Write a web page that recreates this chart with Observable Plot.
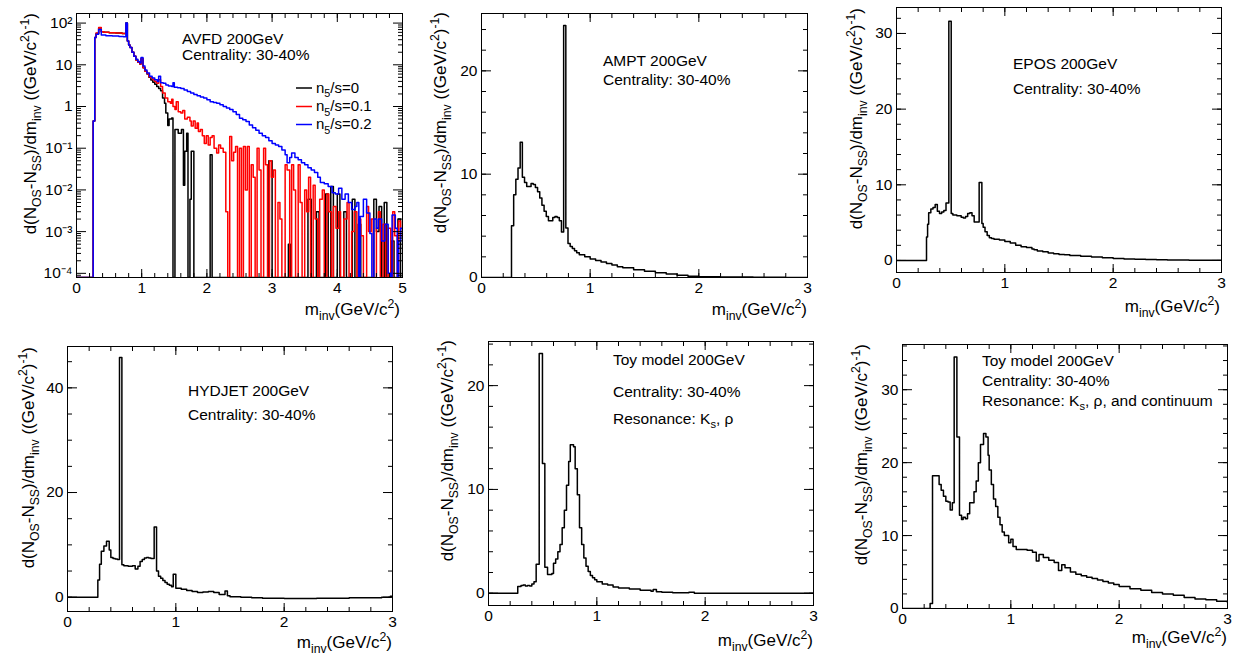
<!DOCTYPE html>
<html><head><meta charset="utf-8">
<script src="https://cdn.jsdelivr.net/npm/d3@7"></script>
<script src="https://cdn.jsdelivr.net/npm/@observablehq/plot@0.6"></script>
<style>
html,body{margin:0;padding:0;background:#fff;}
#root{position:relative;width:1236px;height:656px;overflow:hidden;}
.panel{position:absolute;}
.panel svg{display:block;overflow:visible;}
</style></head><body><div id="root"></div>
<script>
// ---------- DATA: histogram bins as [bin left edge (GeV/c^2), value] ----------
const avfdBlack = [[0,0],[0.256,0.45],[0.28,45],[0.30,56],[0.34,77],[0.38,62],[0.42,60],[0.5,59],[0.6,58],[0.7,56],[0.757,100],[0.78,37],[0.80,30],[0.82,26],[0.85,20],[0.88,16],[0.91,13],[0.94,11.5],[0.97,10.5],[0.99,14],[1.02,8.5],[1.05,7.0],[1.08,6.0],[1.11,5.0],[1.14,4.3],[1.17,3.8],[1.20,3.4],[1.23,3.0],[1.26,2.7],[1.29,2.4],[1.32,1.6],[1.35,1.2],[1.37,0.7],[1.40,0.35],[1.42,0.5],[1.46,0.53],[1.48,0],[1.51,0.28],[1.56,0.23],[1.61,0.28],[1.64,0.013],[1.66,0.085],[1.69,0.23],[1.71,0],[1.74,0.006],[1.76,0.085],[1.80,0],[2.05,0.07],[2.08,0],[2.95,0.05],[3.0,0],[3.25,0.0005],[3.28,0],[3.55,0.006],[3.6,0],[3.68,0.003],[3.72,0],[3.82,0.008],[3.86,0],[3.9,0.012],[3.94,0],[4.0,0.008],[4.04,0],[4.1,0.003],[4.14,0],[4.23,0.006],[4.27,0],[4.32,0.0015],[4.36,0],[4.56,0.006],[4.6,0.001],[4.64,0.004],[4.68,0],[4.72,0.005],[4.76,0],[4.83,0.0006],[4.87,0],[4.93,0.002],[4.97,0],[5.0,0]];
const avfdRed = [[0,0],[0.256,0.45],[0.28,45],[0.30,58],[0.34,78],[0.38,62],[0.42,60],[0.5,59],[0.6,58],[0.7,56],[0.757,98],[0.78,37],[0.80,30],[0.82,26],[0.85,20],[0.88,16],[0.91,13],[0.94,11.5],[0.97,10.5],[0.99,14],[1.02,8.5],[1.05,7.0],[1.08,6.2],[1.11,5.2],[1.14,4.8],[1.17,4.4],[1.20,4.0],[1.23,3.6],[1.26,4.4],[1.29,3.0],[1.32,2.1],[1.36,1.6],[1.40,1.3],[1.44,1.2],[1.46,1.5],[1.48,1.0],[1.51,0.85],[1.53,1.3],[1.56,0.75],[1.60,0.7],[1.63,0.8],[1.66,0.5],[1.70,0.55],[1.74,0.45],[1.76,0.34],[1.79,0.45],[1.82,0.3],[1.85,0.4],[1.87,0.25],[1.90,0.28],[1.93,0.2],[1.96,0.13],[1.99,0.2],[2.02,0.12],[2.05,0.18],[2.08,0.2],[2.11,0.1],[2.15,0.077],[2.18,0.12],[2.21,0.1],[2.25,0.08],[2.29,0.003],[2.32,0],[2.35,0.19],[2.38,0.05],[2.41,0.08],[2.44,0.11],[2.47,0],[2.50,0.1],[2.53,0],[2.56,0.11],[2.59,0.01],[2.62,0.11],[2.65,0],[2.68,0.04],[2.71,0.02],[2.74,0],[2.77,0.1],[2.80,0.03],[2.83,0],[2.87,0.1],[2.90,0.04],[2.93,0],[2.96,0.05],[2.99,0.02],[3.02,0.03],[3.05,0],[3.09,0.005],[3.12,0.002],[3.15,0],[3.2,0.04],[3.23,0.03],[3.27,0],[3.30,0.04],[3.33,0.01],[3.36,0],[3.40,0.04],[3.43,0.005],[3.46,0],[3.5,0.01],[3.53,0.003],[3.56,0.02],[3.59,0],[3.63,0.013],[3.66,0.002],[3.70,0],[3.73,0.006],[3.77,0.01],[3.80,0],[3.84,0.008],[3.87,0.003],[3.91,0],[3.94,0.004],[3.98,0.0012],[4.02,0.003],[4.05,0],[4.1,0.002],[4.15,0.005],[4.18,0],[4.22,0.001],[4.26,0.003],[4.3,0],[4.33,0.002],[4.36,0.0008],[4.4,0],[4.45,0.004],[4.48,0.001],[4.52,0.002],[4.55,0],[4.6,0.0012],[4.63,0.003],[4.66,0],[4.7,0.0015],[4.74,0],[4.78,0.0012],[4.82,0],[4.85,0.003],[4.88,0.0008],[4.92,0],[4.94,0.0018],[4.97,0.0008],[5.0,0.0008]];
const avfdBlue = [[0,0],[0.256,0.45],[0.28,45],[0.30,54],[0.34,70],[0.38,52],[0.45,50],[0.55,49],[0.65,48],[0.72,47],[0.757,100],[0.78,37],[0.80,30],[0.82,26],[0.85,20],[0.88,16],[0.91,13.5],[0.94,12],[0.97,11],[0.99,15],[1.02,9.3],[1.05,7.5],[1.08,6.4],[1.12,5.3],[1.16,4.8],[1.20,4.4],[1.24,4.0],[1.26,5.3],[1.29,3.7],[1.33,3.6],[1.37,3.3],[1.41,3.1],[1.46,3.0],[1.48,3.7],[1.50,2.9],[1.55,2.8],[1.60,2.7],[1.65,2.5],[1.70,2.3],[1.75,2.1],[1.80,1.95],[1.85,1.8],[1.90,1.7],[1.95,1.6],[2.00,1.45],[2.05,1.3],[2.10,1.25],[2.15,1.2],[2.20,1.1],[2.25,1.0],[2.30,0.92],[2.35,0.85],[2.40,0.75],[2.45,0.64],[2.50,0.52],[2.55,0.48],[2.60,0.44],[2.65,0.36],[2.70,0.31],[2.75,0.27],[2.80,0.23],[2.85,0.2],[2.90,0.18],[2.95,0.15],[3.00,0.13],[3.05,0.12],[3.10,0.11],[3.15,0.09],[3.20,0.07],[3.23,0.045],[3.27,0.06],[3.30,0.077],[3.35,0.06],[3.40,0.053],[3.45,0.045],[3.50,0.04],[3.55,0.034],[3.60,0.03],[3.65,0.026],[3.70,0.02],[3.74,0.015],[3.80,0.014],[3.86,0.012],[3.92,0.0085],[3.97,0.008],[4.02,0.011],[4.07,0.006],[4.12,0.008],[4.17,0.005],[4.22,0.0034],[4.27,0.004],[4.30,0.005],[4.33,0],[4.35,0.0023],[4.40,0.006],[4.45,0.0028],[4.50,0.0009],[4.53,0],[4.56,0.002],[4.60,0.0012],[4.63,0.002],[4.68,0.0006],[4.73,0.0015],[4.78,0.0001],[4.82,0],[4.84,0.0025],[4.89,0.0012],[4.92,0],[4.94,0.0006],[4.97,0.0012],[5.0,0.0012]];
const ampt = [[0,0],[0.276,5.0],[0.296,8.0],[0.316,9.5],[0.336,10.6],[0.356,13.1],[0.376,9.7],[0.396,9.2],[0.416,8.8],[0.436,8.8],[0.456,9.1],[0.476,9.0],[0.496,8.7],[0.516,8.3],[0.536,7.7],[0.556,7.0],[0.576,6.4],[0.596,5.9],[0.616,5.5],[0.636,5.5],[0.656,5.8],[0.676,5.9],[0.696,5.8],[0.716,5.5],[0.736,4.4],[0.756,24.4],[0.776,4.8],[0.796,3.3],[0.816,3.0],[0.836,2.8],[0.856,2.6],[0.876,2.4],[0.9,2.2],[0.95,2.0],[1.0,1.8],[1.05,1.65],[1.1,1.5],[1.15,1.35],[1.2,1.2],[1.25,1.05],[1.3,0.95],[1.4,0.75],[1.5,0.6],[1.6,0.45],[1.7,0.33],[1.8,0.22],[1.9,0.13],[2.0,0.08],[2.2,0.05],[2.5,0.02],[2.8,0.01],[3.0,0.01]];
const epos = [[0,0],[0.277,3.1],[0.287,4.8],[0.297,6.3],[0.317,6.8],[0.337,7.0],[0.357,7.4],[0.377,6.5],[0.397,6.2],[0.417,6.4],[0.437,6.6],[0.457,7.6],[0.483,31.6],[0.505,6.2],[0.52,6.0],[0.557,5.9],[0.597,5.7],[0.617,5.6],[0.637,5.8],[0.657,6.2],[0.677,6.3],[0.697,5.9],[0.717,5.1],[0.763,10.3],[0.788,4.9],[0.80,4.4],[0.817,3.8],[0.837,3.3],[0.857,3.0],[0.877,2.9],[0.9,2.8],[0.95,2.7],[1.0,2.5],[1.05,2.3],[1.1,2.0],[1.15,1.8],[1.2,1.7],[1.25,1.5],[1.27,1.4],[1.3,1.25],[1.35,1.15],[1.4,1.0],[1.45,0.9],[1.5,0.8],[1.55,0.75],[1.6,0.65],[1.7,0.55],[1.8,0.45],[1.9,0.35],[2.0,0.25],[2.1,0.2],[2.2,0.15],[2.3,0.12],[2.4,0.08],[2.5,0.06],[2.6,0.05],[2.7,0.03],[2.8,0.02],[2.9,0.02],[3.0,0.02]];
const hydjet = [[0,0],[0.28,3.3],[0.296,6.3],[0.312,8.8],[0.336,9.8],[0.36,10.7],[0.385,9.0],[0.40,7.6],[0.42,7.4],[0.44,7.3],[0.46,7.2],[0.48,45.8],[0.502,6.2],[0.52,6.0],[0.56,5.9],[0.60,6.0],[0.625,5.4],[0.65,5.9],[0.67,6.8],[0.69,7.2],[0.71,7.5],[0.73,7.6],[0.75,7.5],[0.77,7.4],[0.80,13.4],[0.822,5.0],[0.84,4.0],[0.86,3.6],[0.88,3.2],[0.90,2.8],[0.92,2.5],[0.94,2.3],[0.96,2.0],[0.976,4.4],[1.0,1.7],[1.05,1.5],[1.1,1.3],[1.15,1.1],[1.2,0.9],[1.25,1.0],[1.3,1.1],[1.35,0.9],[1.4,0.5],[1.454,1.2],[1.476,0.3],[1.5,0.1],[1.6,0.0],[1.7,-0.1],[1.8,-0.2],[2.0,-0.25],[2.3,-0.2],[2.6,-0.1],[2.9,0.0],[2.98,0.2],[3.0,0.2]];
const toyKsRho = [[0,0],[0.27,0.64],[0.30,0.75],[0.32,0.8],[0.34,0.7],[0.36,0.75],[0.38,0.7],[0.40,0.9],[0.42,1.1],[0.44,2.8],[0.468,23.1],[0.498,12.5],[0.52,2.5],[0.545,1.8],[0.585,1.9],[0.60,2.9],[0.62,3.3],[0.64,4.0],[0.66,4.7],[0.68,6.3],[0.70,8.0],[0.72,10.4],[0.74,12.7],[0.755,14.3],[0.785,14.1],[0.80,12.0],[0.82,9.5],[0.84,6.3],[0.86,4.7],[0.88,3.4],[0.90,2.6],[0.92,2.1],[0.94,1.7],[0.96,1.5],[0.98,1.3],[1.0,1.1],[1.05,0.9],[1.1,0.8],[1.15,0.6],[1.2,0.5],[1.3,0.4],[1.4,0.3],[1.5,0.2],[1.52,0.35],[1.55,0.15],[1.6,0.1],[1.7,0.05],[1.8,0.05],[1.85,0.1],[1.9,0.0],[2.0,0.0],[3.0,0.0]];
const toyCont = [[0,0],[0.255,0.7],[0.277,18.2],[0.338,17.0],[0.357,16.2],[0.378,15.4],[0.40,14.7],[0.42,14.6],[0.44,13.5],[0.46,14.5],[0.477,34.5],[0.502,23.5],[0.526,12.8],[0.545,12.2],[0.56,12.5],[0.58,12.3],[0.60,13.0],[0.62,14.5],[0.64,14.5],[0.66,16.0],[0.68,17.5],[0.70,20.0],[0.72,22.5],[0.748,24.0],[0.77,23.5],[0.79,21.0],[0.80,19.0],[0.82,17.0],[0.84,15.0],[0.86,14.0],[0.88,12.5],[0.90,11.5],[0.92,10.5],[0.94,10.0],[0.96,10.0],[0.98,9.0],[1.0,9.5],[1.02,8.5],[1.05,8.1],[1.1,8.1],[1.15,8.0],[1.2,7.7],[1.235,6.5],[1.26,7.4],[1.3,7.0],[1.35,6.6],[1.4,6.3],[1.44,5.2],[1.47,6.0],[1.5,5.6],[1.55,5.0],[1.6,4.7],[1.65,4.5],[1.7,4.3],[1.75,4.1],[1.8,3.9],[1.85,3.7],[1.9,3.5],[1.95,3.3],[2.0,3.0],[2.1,2.7],[2.2,2.5],[2.3,2.2],[2.4,2.0],[2.5,1.8],[2.6,1.5],[2.7,1.3],[2.8,1.2],[2.9,1.0],[3.0,0.8]];

// ---------- TICKS & LABELS ----------
const xTicks5 = [0,1,2,3,4,5];
const xTicks3 = [0,1,2,3];
const avfdYTicks = [1e-4,1e-3,1e-2,1e-1,1,10,100];
const avfdYLabels = ["10\u207B\u2074","10\u207B\u00B3","10\u207B\u00B2","10\u207B\u00B9","1","10","10\u00B2"];
const yTicks10to20 = [0,10,20];
const yTicks10to30 = [0,10,20,30];
const yTicks20to40 = [0,20,40];
const yTitle = ["d(N",["OS","sub"],"-N",["SS","sub"],")/dm",["inv","sub"]," ((GeV/c",["2","sup"],")",["-1","sup"],")"];
const xTitle = ["m",["inv","sub"],"(GeV/c",["2","sup"],")"];
const legendLabels = [[ "n",["5","sub"],"/s=0"],["n",["5","sub"],"/s=0.1"],["n",["5","sub"],"/s=0.2"]];
const legendColors = ["#000000","#ff0000","#0000ff"];

const FONT = '"Liberation Sans", Arial, Helvetica, sans-serif';

function richText(svg, x, y, parts, size, anchor, rotate) {
  const t = svg.append("text")
    .attr("font-family", FONT).attr("font-size", size).attr("fill", "#000")
    .attr("text-anchor", anchor || "start").style("white-space", "pre");
  if (rotate) t.attr("transform", `translate(${x},${y}) rotate(-90)`);
  else t.attr("x", x).attr("y", y);
  let cur = 0;
  for (const p of parts) {
    const str = Array.isArray(p) ? p[0] : p;
    const mode = Array.isArray(p) ? p[1] : "";
    const shift = mode === "sub" ? 0.3 * size : mode === "sup" ? -0.42 * size : 0;
    const ts = t.append("tspan").text(str).attr("dy", (shift - cur).toFixed(2));
    if (mode) ts.attr("font-size", (size * 0.72).toFixed(2));
    cur = shift;
  }
  return t;
}

function logMinor(domain) {
  const out = [];
  for (let e = -6; e <= 3; e++) for (let k = 2; k <= 9; k++) {
    const v = k * Math.pow(10, e);
    if (v >= domain[0] && v <= domain[1]) out.push(v);
  }
  return out;
}
function linMinor(domain, step) {
  return d3.range(Math.ceil(domain[0] / step) * step, domain[1] + 1e-9, step).map(v => +v.toFixed(6));
}

const panels = [
  {left:0, top:0, width:410, m:[13,8,51,76], xDomain:[0,5], xMajor:xTicks5, yType:"log", yDomain:[Math.pow(10,-4.1), Math.pow(10,2.23)],
   yMajor:avfdYTicks, yFmt:(d)=>avfdYLabels[avfdYTicks.indexOf(d)],
   series:[{data:avfdBlack,color:"#000000"},{data:avfdRed,color:"#ff0000"},{data:avfdBlue,color:"#0000ff"}],
   notes:[{x:182,y:43.5,parts:["AVFD 200GeV"]},{x:182,y:59.5,parts:["Centrality: 30-40%"]}],
   legend:{x1:296,x2:312,tx:316,ys:[92.5,111,129]}, yT:[36,13], xT:[400,315]},
  {left:410, top:0, width:410, m:[13,13,51,71], xDomain:[0,3], xMajor:xTicks3, yType:"linear", yDomain:[0,25.55], yMajor:yTicks10to20, yMinorStep:2,
   series:[{data:ampt,color:"#000000"}],
   notes:[{x:193,y:66,parts:["AMPT 200GeV"]},{x:193,y:84.5,parts:["Centrality: 30-40%"]}], yT:[36,12], xT:[397,315]},
  {left:820, top:0, width:416, m:[7,15,56,76], xDomain:[0,3], xMajor:xTicks3, yType:"linear", yDomain:[-1.59,33.43], yMajor:yTicks10to30, yMinorStep:2,
   series:[{data:epos,color:"#000000"}],
   notes:[{x:193,y:69,parts:["EPOS 200GeV"]},{x:193,y:93.5,parts:["Centrality: 30-40%"]}], yT:[42,8], xT:[400,312]},
  {left:0, top:328, width:410, m:[18,18,45,67], xDomain:[0,3], xMajor:xTicks3, yType:"linear", yDomain:[-2.73,47.9], yMajor:yTicks20to40, yMinorStep:5,
   series:[{data:hydjet,color:"#000000"}],
   notes:[{x:188,y:68,parts:["HYDJET 200GeV"]},{x:188,y:92,parts:["Centrality: 30-40%"]}], yT:[34,19], xT:[392,320]},
  {left:410, top:328, width:410, m:[13,7,51,78], xDomain:[0,3], xMajor:xTicks3, yType:"linear", yDomain:[-1.18,24.25], yMajor:yTicks10to20, yMinorStep:2,
   series:[{data:toyKsRho,color:"#000000"}],
   notes:[{x:203,y:36.5,parts:["Toy model 200GeV"]},{x:203,y:68.5,parts:["Centrality: 30-40%"]},{x:203,y:95.5,parts:["Resonance: K",["s","sub"],", \u03C1"]}], yT:[43,12], xT:[403,318]},
  {left:820, top:328, width:416, m:[16,9,48,82], xDomain:[0,3], xMajor:xTicks3, yType:"linear", yDomain:[0,36.2], yMajor:yTicks10to30, yMinorStep:2,
   series:[{data:toyCont,color:"#000000"}],
   notes:[{x:162,y:38,parts:["Toy model 200GeV"]},{x:162,y:58,parts:["Centrality: 30-40%"]},{x:162,y:77.5,parts:["Resonance: K",["s","sub"],", \u03C1, and continuum"]}], yT:[47,16], xT:[407,315]}
];

const root = document.getElementById("root");
for (const c of panels) {
  const H = 328;
  const [mt, mr, mb, ml] = c.m;
  const floor = c.yType === "log" ? c.yDomain[0] : -Infinity;
  const xMinor = linMinor(c.xDomain, 0.2);
  const yMinor = c.yType === "log" ? logMinor(c.yDomain) : linMinor(c.yDomain, c.yMinorStep);
  const yMaj = c.yMajor.filter(v => v >= c.yDomain[0] && v <= c.yDomain[1]);
  const noText = () => "";
  const tickStyle = {label: null, tickFormat: noText, stroke: "#000", strokeWidth: 1};
  const marks = [];
  for (const s of c.series) {
    marks.push(Plot.line(s.data, {x: d => d[0], y: d => Math.max(d[1], floor), curve: "step-after",
      stroke: s.color, strokeWidth: 1.5, clip: true}));
  }
  marks.push(
    // inward ticks on all four sides (major and minor)
    Plot.axisX(c.xMajor, {...tickStyle, anchor: "bottom", tickSize: 8, dy: -8}),
    Plot.axisX(xMinor, {...tickStyle, anchor: "bottom", tickSize: 4, dy: -4}),
    Plot.axisX(c.xMajor, {...tickStyle, anchor: "top", tickSize: 8, dy: 8}),
    Plot.axisX(xMinor, {...tickStyle, anchor: "top", tickSize: 4, dy: 4}),
    Plot.axisY(yMaj, {...tickStyle, anchor: "left", tickSize: 10, dx: 10}),
    Plot.axisY(yMinor, {...tickStyle, anchor: "left", tickSize: 5, dx: 5}),
    Plot.axisY(yMaj, {...tickStyle, anchor: "right", tickSize: 10, dx: -10}),
    Plot.axisY(yMinor, {...tickStyle, anchor: "right", tickSize: 5, dx: -5}),
    // tick labels
    Plot.axisX(c.xMajor, {anchor: "bottom", tickSize: 0, tickPadding: 4, label: null, tickFormat: d => String(d), fill: "#000", fontSize: 15.5}),
    Plot.axisY(yMaj, {anchor: "left", tickSize: 0, tickPadding: 4, label: null, tickFormat: c.yFmt || (d => String(d)), fill: "#000", fontSize: 15.5}),
    Plot.frame({stroke: "#000", strokeWidth: 1})
  );
  const chart = Plot.plot({
    width: c.width, height: H,
    marginTop: mt, marginRight: mr, marginBottom: mb, marginLeft: ml,
    x: {domain: c.xDomain},
    y: {type: c.yType, domain: c.yDomain},
    style: {fontFamily: FONT, fontSize: "15.5px", color: "#000", background: "transparent", overflow: "visible"},
    marks
  });
  const div = document.createElement("div");
  div.className = "panel";
  div.style.left = c.left + "px"; div.style.top = c.top + "px"; div.style.width = c.width + "px"; div.style.height = H + "px";
  div.appendChild(chart);
  root.appendChild(div);
  const svg = d3.select(chart);
  for (const n of c.notes) richText(svg, n.x, n.y, n.parts, 15.5, "start", false);
  if (c.legend) {
    const L = c.legend;
    legendLabels.forEach((parts, i) => {
      svg.append("line").attr("x1", L.x1).attr("x2", L.x2).attr("y1", L.ys[i] - 4.5).attr("y2", L.ys[i] - 4.5)
        .attr("stroke", legendColors[i]).attr("stroke-width", 1.5);
      richText(svg, L.tx, L.ys[i], parts, 15, "start", false);
    });
  }
  richText(svg, c.yT[0], c.yT[1], yTitle, 17, "end", true);
  richText(svg, c.xT[0], c.xT[1], xTitle, 17, "end", false);
}
</script>
</body></html>
